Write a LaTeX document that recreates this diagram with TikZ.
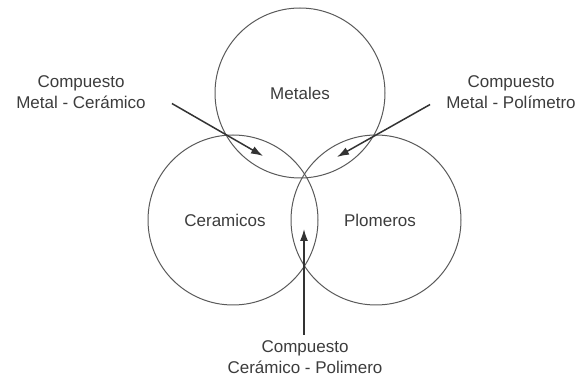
\documentclass[tikz,border=0pt]{standalone}
\usepackage{fontspec}
\setmainfont{Liberation Sans}
\usepackage{xcolor}
\usepackage{tikz}
\usetikzlibrary{
arrows.meta,
positioning
}
\definecolor{linegray}{HTML}{5A5A5A}
\definecolor{textgray}{HTML}{3C3C3C}

\begin{document}
\begin{tikzpicture}[
x=1pt, y=-1pt,
set/.style={
circle,
draw=linegray,
line width=1pt,
minimum size=170pt,
inner sep=0pt,
outer sep=0pt,
text=textgray,
font=\fontsize{17}{21}\selectfont
},
tag/.style={
align=center,
inner sep=0pt,
text=textgray,
font=\fontsize{17}{21}\selectfont
},
arr/.style={
-{Latex[length=12pt,width=8pt]},
draw=black!80,
line width=1.5pt
}
]
\useasboundingbox (0,0) rectangle (579,379);

\node[set] (metal) at (300,93) {Metales};
\node[set, label={[tag, xshift=-8pt]center:Ceramicos}] (ceram) at (233,220) {};
\node[set, label={[tag, xshift=4pt]center:Plomeros}] (polim) at (376,220) {};

\node[tag] (mc) at (81,92.5) {Compuesto\\Metal - Cerámico};
\node[tag] (mp) at (511,92.5) {Compuesto\\Metal - Polímetro};
\node[tag] (cp) at (305,357.5) {Compuesto\\Cerámico - Polimero};

\coordinate (tmc) at (263,156);
\coordinate (tmp) at (337,157);
\coordinate (tcp) at (304,229);

\draw[arr] ([xshift=26pt,yshift=-11pt]mc.east) -- (tmc);
\draw[arr] ([xshift=-16pt,yshift=-12pt]mp.west) -- (tmp);
\draw[arr] ([xshift=-1pt,yshift=6pt]cp.north) -- (tcp);

\end{tikzpicture}
\end{document}
